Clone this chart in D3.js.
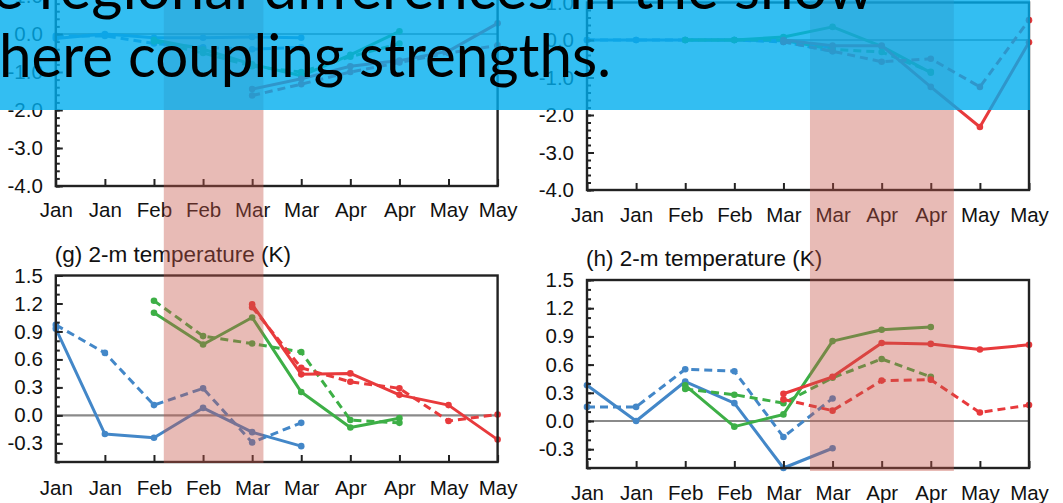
<!DOCTYPE html>
<html><head><meta charset="utf-8">
<script src="https://cdn.jsdelivr.net/npm/d3@7"></script>
<style>html,body{margin:0;padding:0;background:#fff;overflow:hidden}</style>
</head><body>
<svg id="c" width="1063" height="503"></svg>
<script>
// ---------- data ----------
const months = ["Jan","Jan","Feb","Feb","Mar","Mar","Apr","Apr","May","May"];
const blueStart = 0, greenStart = 2, redStart = 4;

const topTicks = [-4.0, -3.0, -2.0, -1.0, 0.0, 1.0];
const bottomTicks = [-0.3, 0.0, 0.3, 0.6, 0.9, 1.2, 1.5];
const titles = ["(g) 2-m temperature (K)", "(h) 2-m temperature (K)"];
const bannerLines = ["e regional differences in the snow", "here coupling strengths."];

// shaded periods (month-index units)
const shadeLeft = [2.2, 4.23];
const shadeRight = [4.54, 7.47];

// top-left panel (mostly under banner)
const tlBlueSolid   = [-0.12, 0.00, -0.10, -0.10, -0.08, -0.10];
const tlBlueDashed  = [-0.05, -0.05, -0.25, -0.35, -0.40, -0.35];
const tlGreenSolid  = [-0.15, -0.40, -0.80, -1.10, -0.55, 0.07];
const tlGreenDashed = [-0.20, -0.50, -0.85, -1.00, -0.60, -0.25];
const tlRedSolid    = [-1.45, -1.18, -0.85, -0.70, -0.45, 0.28];
const tlRedDashed   = [-1.62, -1.32, -1.00, -0.75, -0.50, -0.30];

// top-right panel
const trBlueSolid   = [0.00, 0.00, 0.00, 0.00, -0.02, -0.20];
const trBlueDashed  = [0.00, 0.00, 0.00, 0.00, -0.05, -0.30];
const trGreenSolid  = [0.00, 0.00, 0.08, 0.35, -0.17, -0.87];
const trGreenDashed = [0.00, 0.00, 0.00, -0.25, -0.32, -0.85];
const trRedSolid    = [0.00, -0.15, -0.15, -1.25, -2.32, -0.06];
const trRedDashed   = [-0.05, -0.30, -0.58, -0.50, -1.25, 0.53];

// (g) 2-m temperature
const gBlueSolid   = [0.93, -0.20, -0.24, 0.08, -0.18, -0.33];
const gBlueDashed  = [0.97, 0.67, 0.11, 0.29, -0.29, -0.08];
const gGreenSolid  = [1.10, 0.76, 1.05, 0.25, -0.13, -0.03];
const gGreenDashed = [1.23, 0.85, 0.77, 0.68, -0.05, -0.08];
const gRedSolid    = [1.19, 0.44, 0.45, 0.22, 0.11, -0.26];
const gRedDashed   = [1.16, 0.51, 0.36, 0.29, -0.06, 0.01];

// (h) 2-m temperature
const hBlueSolid   = [0.38, 0.00, 0.42, 0.19, -0.50, -0.29];
const hBlueDashed  = [0.15, 0.15, 0.55, 0.53, -0.17, 0.24];
const hGreenSolid  = [0.38, -0.06, 0.07, 0.85, 0.97, 1.00];
const hGreenDashed = [0.34, 0.28, 0.19, 0.46, 0.66, 0.47];
const hRedSolid    = [0.29, 0.47, 0.83, 0.82, 0.76, 0.81];
const hRedDashed   = [0.23, 0.11, 0.43, 0.44, 0.09, 0.17];

// ---------- drawing ----------
const BLUE = "#4387c8", GREEN = "#3daf46", RED = "#e83a3c";
const FONT = "'Liberation Sans', Arial, Helvetica, sans-serif";
const svg = d3.select("#c");

function series(bs, bd, gs, gd, rs, rd) {
  return [
    {v: bs, start: blueStart, c: BLUE, dash: null},
    {v: bd, start: blueStart, c: BLUE, dash: "8,5"},
    {v: gs, start: greenStart, c: GREEN, dash: null},
    {v: gd, start: greenStart, c: GREEN, dash: "8,5"},
    {v: rs, start: redStart, c: RED, dash: null},
    {v: rd, start: redStart, c: RED, dash: "8,5"}
  ];
}

const panels = [
  {x0: 55.8, x1: 497.6, yt: -4, yb: 186, domain: [-4, 1], ticks: topTicks, minor: 0.2, pad: 16.5, shadeExtra: 0,
   series: series(tlBlueSolid, tlBlueDashed, tlGreenSolid, tlGreenDashed, tlRedSolid, tlRedDashed)},
  {x0: 587, x1: 1029, yt: 2.5, yb: 190, domain: [-4, 1], ticks: topTicks, minor: 0.2, pad: 17.4, shadeExtra: 0,
   series: series(trBlueSolid, trBlueDashed, trGreenSolid, trGreenDashed, trRedSolid, trRedDashed)},
  {x0: 55.8, x1: 497.6, yt: 275.5, yb: 462, domain: [-0.5, 1.5], ticks: bottomTicks, minor: 0.1, pad: 18, shadeExtra: 1,
   title: titles[0], series: series(gBlueSolid, gBlueDashed, gGreenSolid, gGreenDashed, gRedSolid, gRedDashed)},
  {x0: 587, x1: 1029, yt: 280, yb: 468, domain: [-0.5, 1.5], ticks: bottomTicks, minor: 0.1, pad: 17.4, shadeExtra: 3,
   title: titles[1], series: series(hBlueSolid, hBlueDashed, hGreenSolid, hGreenDashed, hRedSolid, hRedDashed)}
];

const scales = [];
panels.forEach(p => {
  const x = d3.scaleLinear().domain([0, months.length - 1]).range([p.x0, p.x1]);
  const y = d3.scaleLinear().domain(p.domain).range([p.yb, p.yt]);
  scales.push({x, y});
  const g = svg.append("g");

  // zero line
  g.append("line").attr("x1", p.x0).attr("x2", p.x1)
    .attr("y1", y(0)).attr("y2", y(0))
    .attr("stroke", "#8a8a8a").attr("stroke-width", 2.2);

  // series
  const line = d3.line().x(d => x(d[0])).y(d => y(d[1]));
  p.series.forEach(s => {
    const pts = s.v.map((v, i) => [s.start + i, v]);
    g.append("path").attr("d", line(pts)).attr("fill", "none")
      .attr("stroke", s.c).attr("stroke-width", 3)
      .attr("stroke-linejoin", "round")
      .attr("stroke-dasharray", s.dash);
    g.selectAll(null).data(pts).enter().append("circle")
      .attr("cx", d => x(d[0])).attr("cy", d => y(d[1])).attr("r", 3.3)
      .attr("fill", s.c);
  });

  // x axis
  const xa = g.append("g").attr("transform", `translate(0,${p.yb})`)
    .call(d3.axisBottom(x).tickValues(d3.range(months.length))
      .tickFormat(i => months[i]).tickSizeInner(-7).tickSizeOuter(0).tickPadding(p.pad));
  // y axis minor
  const minorVals = d3.range(Math.round((p.domain[1] - p.domain[0]) / p.minor) + 1)
    .map(i => +(p.domain[0] + i * p.minor).toFixed(2));
  const ym = g.append("g").attr("transform", `translate(${p.x0},0)`)
    .call(d3.axisLeft(y).tickValues(minorVals).tickFormat("").tickSizeInner(-4).tickSizeOuter(0));
  // y axis major
  const ya = g.append("g").attr("transform", `translate(${p.x0},0)`)
    .call(d3.axisLeft(y).tickValues(p.ticks).tickFormat(d => d.toFixed(1))
      .tickSizeInner(-7).tickSizeOuter(0).tickPadding(13));
  [xa, ym, ya].forEach(a => {
    a.select(".domain").remove();
    a.selectAll("line").attr("stroke", "#222").attr("stroke-width", 2);
    a.selectAll("text").attr("font-family", FONT).attr("font-size", 20.5).attr("fill", "#111");
  });

  // frame
  g.append("rect").attr("x", p.x0).attr("y", p.yt)
    .attr("width", p.x1 - p.x0).attr("height", p.yb - p.yt)
    .attr("fill", "none").attr("stroke", "#222").attr("stroke-width", 2.4);

  if (p.title) {
    g.append("text").attr("x", p.x0 - 1).attr("y", p.yt - 14)
      .attr("font-family", FONT).attr("font-size", 22.5).attr("fill", "#111")
      .text(p.title);
  }
});

// shaded periods (drawn over the charts)
const shadeColor = "rgba(197,85,72,0.4)";
[[shadeLeft, scales[2], panels[2]], [shadeRight, scales[3], panels[3]]].forEach(([r, s, p]) => {
  svg.append("rect").attr("x", s.x(r[0])).attr("y", -5)
    .attr("width", s.x(r[1]) - s.x(r[0])).attr("height", p.yb + p.shadeExtra + 5)
    .attr("fill", shadeColor);
});

// slide banner
svg.append("rect").attr("x", 0).attr("y", 0).attr("width", 1030).attr("height", 110)
  .attr("fill", "#00AEEF").attr("opacity", 0.8);
svg.append("text").attr("x", -8).attr("y", 9)
  .attr("font-family", "Lato, 'Open Sans', sans-serif").attr("font-size", 60).attr("fill", "#000")
  .attr("textLength", 882).attr("lengthAdjust", "spacingAndGlyphs")
  .text(bannerLines[0]);
svg.append("text").attr("x", -1).attr("y", 77)
  .attr("font-family", "Lato, 'Open Sans', sans-serif").attr("font-size", 60).attr("fill", "#000")
  .attr("textLength", 612).attr("lengthAdjust", "spacingAndGlyphs")
  .text(bannerLines[1]);
</script>
</body></html>
